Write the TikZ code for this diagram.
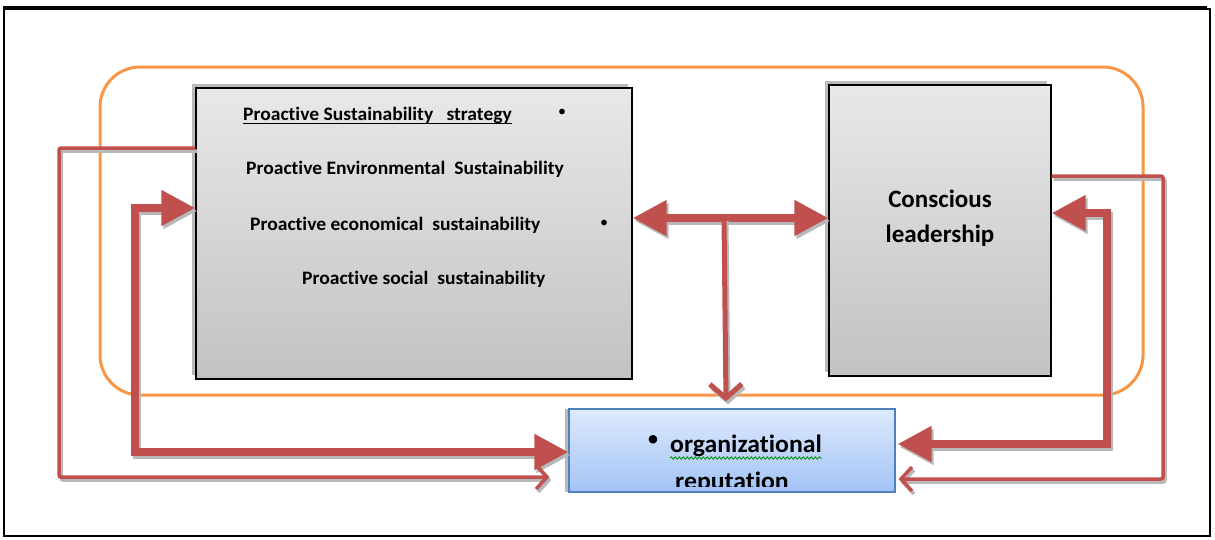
\documentclass[tikz,border=0pt]{standalone}
\usepackage{fontspec}
\setmainfont{Carlito}[Ligatures=NoCommon]
\newfontfamily\boxfont{Carlito}[Ligatures=NoCommon,FakeStretch=1.03]
\usetikzlibrary{arrows.meta,shadows,decorations.pathmorphing}
\definecolor{arrowred}{RGB}{192,80,77}
\definecolor{frameorange}{RGB}{247,150,70}
\definecolor{repblue}{RGB}{79,129,189}
% draws a connector twice: a soft grey copy offset down-right, then the red one
\newcommand\shadowdraw[2]{%
  \begin{scope}[transform canvas={xshift=2pt,yshift=-3pt}]
    \draw[#1,draw=black!28] #2;
  \end{scope}
  \draw[#1] #2;}
\begin{document}
\begin{tikzpicture}[x=1pt,y=-1pt,
  graybox/.style={draw=black,line width=1.4pt,inner sep=0pt,
    top color=gray!18,bottom color=gray!48,
    drop shadow={shadow xshift=-4pt,shadow yshift=4pt,fill=black!45,opacity=.6}},
  repbox/.style={draw=repblue,line width=1.2pt,inner sep=0pt,
    top color={rgb,255:red,222;green,234;blue,252},bottom color={rgb,255:red,163;green,195;blue,246},
    drop shadow={shadow xshift=-4pt,shadow yshift=0pt,fill=black!45,opacity=.6}},
  thickarr/.style={draw=arrowred,line width=8pt,line join=miter,
    arrows={Triangle[length=34pt,width=34pt]-Triangle[length=34pt,width=34pt]}},
  thinarr/.style={draw=arrowred,line width=3.5pt,rounded corners=2pt,
    -{Straight Barb[length=11pt,width=24pt]}},
  boxtext/.style={anchor=base west,inner sep=0pt,font=\boxfont\bfseries\fontsize{19}{22}\selectfont},
  bigtext/.style={align=center,inner sep=0pt,font=\bfseries\fontsize{25}{35}\selectfont},
  reptext/.style={anchor=base west,inner sep=0pt,font=\boxfont\bfseries\fontsize{25}{30}\selectfont}
]
\useasboundingbox (0,0) rectangle (1215,539);

% outer frame
\draw[line width=2.6pt] (4,9) -- (1210,9) -- (1210,536) -- (4,536) -- cycle;
\draw[line width=4pt] (3,8) -- (1207,8);

% grouping outline
\draw[frameorange,line width=3pt,rounded corners=40pt] (100,67) rectangle (1143,395);

% main boxes
\node[graybox,minimum width=436pt,minimum height=291pt] (strat) at (414,233.5) {};
\node[graybox,minimum width=222pt,minimum height=291pt] (lead) at (940,230.5) {};
\node[repbox,minimum width=326pt,minimum height=83pt] (rep) at (732,450.5) {};

% strategy texts
\node[boxtext] (t1) at (243,120) {Proactive Sustainability\ \ \ strategy};
\draw[line width=1.3pt] ([yshift=-3.5pt]t1.base west) -- ([yshift=-3.5pt]t1.base east);
\node[boxtext] (t2) at (246,174) {Proactive Environmental\ \ Sustainability};
\node[boxtext] (t3) at (250,230) {Proactive economical\ \ sustainability};
\node[boxtext] (t4) at (302,284) {Proactive social\ \ sustainability};
\node[inner sep=0pt,font=\fontsize{16}{16}\selectfont] (b1) at (562,113) {\textbullet};
\node[inner sep=0pt,font=\fontsize{16}{16}\selectfont] (b3) at (604,224) {\textbullet};

% leadership text
\node[bigtext] (lt) at (940,218) {Conscious\\leadership};

% reputation text
\node[inner sep=0pt,font=\fontsize{24}{24}\selectfont] (rb) at (653,441) {\textbullet};
\node[reptext] (r1) at (670,452) {organizational};
\draw[green!55!black,line width=0.8pt,decorate,decoration={snake,segment length=4pt,amplitude=1.2pt}]
  ([yshift=-6pt]r1.base west) -- ([yshift=-6pt]r1.base east);
\begin{scope}
  \clip (rep.north west) rectangle ([yshift=6pt]rep.south east);
  \node[reptext] (r2) at (675,489) {reputation};
\end{scope}

% connectors
\coordinate (hub) at (724,218);
\shadowdraw{thickarr}{(strat.east |- hub) -- (lead.west |- hub)}
\shadowdraw{draw=arrowred,line width=5pt,-{Straight Barb[length=14pt,width=32pt]}}
  {(hub) -- ([xshift=2pt,yshift=7pt]hub |- rep.north)}
\shadowdraw{thickarr}{(strat.west |- 0,208) -| (135,452) -- (rep.west |- 0,452)}
\shadowdraw{thickarr}{(lead.east |- 0,213) -| (1107,444) -- ([xshift=2pt]rep.east |- 0,444)}
\shadowdraw{thinarr}{(strat.west |- 0,148) -| (59,477) -- ([xshift=-19pt]rep.west |- 0,477)}
\shadowdraw{thinarr}{(lead.east |- 0,176) -| (1163,479) -- ([xshift=3pt]rep.east |- 0,479)}
\end{tikzpicture}
\end{document}
